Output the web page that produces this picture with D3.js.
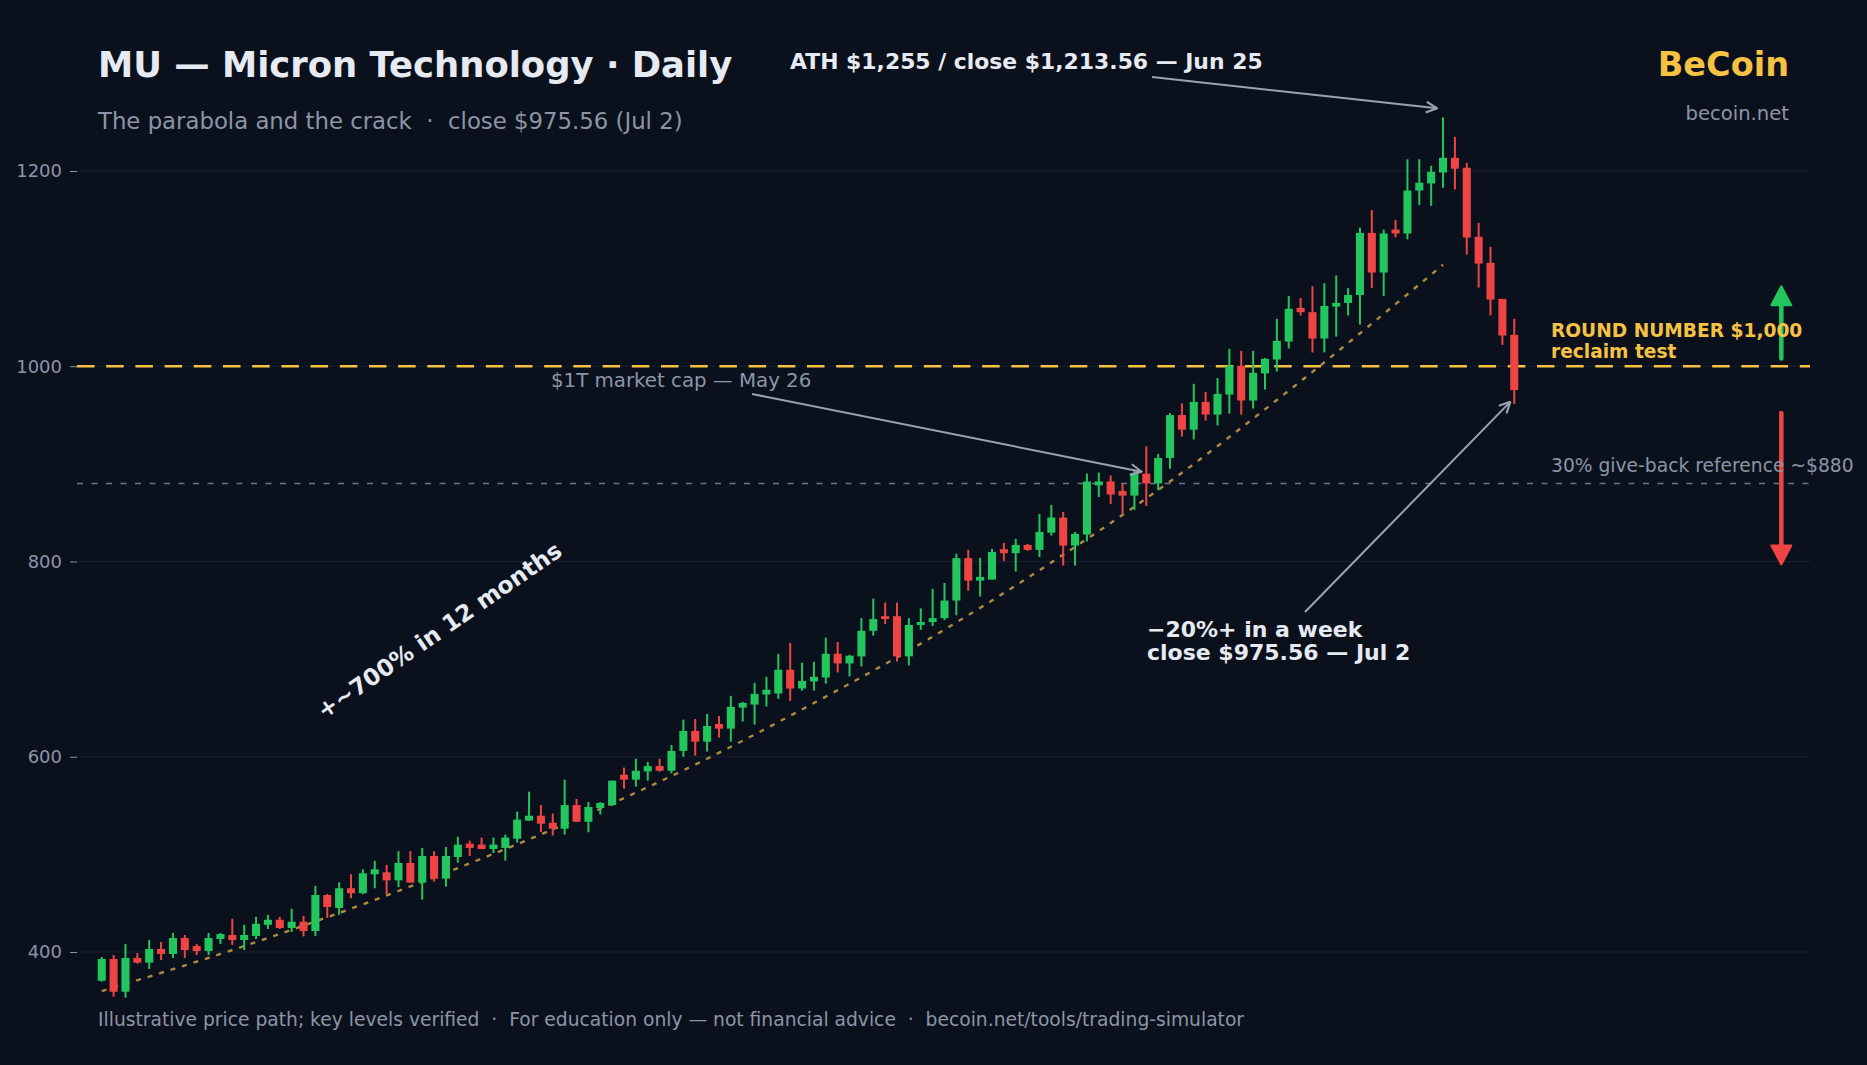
<!DOCTYPE html>
<html>
<head>
<meta charset="utf-8">
<script src="https://cdn.jsdelivr.net/npm/d3@7/dist/d3.min.js"></script>
<style>
  html, body { margin: 0; padding: 0; background: #0b111c; }
  svg { display: block; font-family: "DejaVu Sans", sans-serif; }
</style>
</head>
<body>
<div id="chart"></div>
<script>
// daily candles, index 0 .. 119 (Jun 25 = 113, Jul 2 = 119)
var opens = [370.6, 392.8, 359.3, 393.9, 389.1, 403.1, 398.0, 414.3, 406.1, 401.0,
  413.3, 417.4, 412.3, 416.4, 427.9, 433.0, 424.6, 431.0, 421.5, 458.4,
  445.1, 465.3, 460.2, 479.6, 481.6, 473.4, 491.2, 471.1, 498.4, 475.1,
  497.3, 511.0, 510.0, 505.5, 506.6, 516.1, 534.6, 539.6, 532.4, 526.3,
  550.5, 533.4, 547.5, 550.5, 581.6, 576.5, 585.0, 590.4, 585.7, 606.0,
  626.4, 615.4, 633.6, 628.8, 650.4, 653.5, 663.8, 664.8, 689.1, 669.9,
  677.1, 681.2, 705.5, 695.6, 702.8, 729.0, 744.0, 744.0, 702.8, 735.0,
  738.0, 742.0, 760.0, 803.4, 780.4, 781.5, 812.6, 808.5, 817.0, 811.9,
  829.6, 845.0, 816.3, 827.6, 878.0, 882.0, 872.3, 867.5, 890.0, 880.0,
  906.0, 950.0, 935.0, 963.5, 950.5, 971.0, 1000.4, 964.9, 992.6, 1006.9,
  1025.3, 1059.8, 1055.4, 1028.4, 1061.1, 1064.9, 1073.0, 1136.6, 1096.0, 1140.0,
  1136.0, 1180.0, 1187.2, 1198.5, 1213.5, 1203.3, 1132.6, 1105.9, 1069.0, 1032.2];
var highs = [394.9, 396.9, 408.2, 399.0, 412.3, 410.2, 419.5, 417.4, 408.2, 419.5,
  419.5, 434.0, 427.9, 436.0, 438.1, 436.0, 444.3, 437.0, 467.6, 459.4,
  471.4, 479.6, 484.7, 493.3, 489.2, 503.3, 503.3, 506.6, 503.3, 507.6,
  518.2, 514.1, 517.2, 517.2, 520.3, 543.8, 564.2, 550.5, 541.8, 576.5,
  556.7, 553.6, 553.6, 575.5, 588.9, 598.0, 594.7, 598.0, 612.0, 638.0,
  638.7, 643.8, 641.8, 662.4, 656.2, 675.7, 681.9, 705.5, 716.6, 696.3,
  697.3, 722.0, 717.6, 704.5, 742.0, 762.0, 758.0, 758.0, 742.0, 752.0,
  772.0, 778.0, 808.0, 812.0, 803.7, 812.9, 819.1, 823.2, 818.0, 848.7,
  857.9, 850.8, 830.3, 890.0, 891.0, 888.0, 880.0, 893.0, 918.0, 910.0,
  952.0, 962.0, 982.0, 973.7, 988.0, 1017.8, 1015.8, 1015.8, 1008.6, 1048.6,
  1072.0, 1070.0, 1082.0, 1085.0, 1093.0, 1080.0, 1142.0, 1160.0, 1140.0, 1150.0,
  1212.0, 1212.0, 1205.3, 1255.0, 1235.0, 1208.4, 1146.9, 1122.3, 1069.0, 1048.6];
var lows = [369.6, 354.2, 353.2, 388.0, 382.6, 391.8, 393.9, 393.9, 396.9, 396.9,
  408.2, 407.2, 402.0, 413.3, 423.6, 423.6, 420.5, 416.0, 416.4, 434.9,
  438.1, 455.0, 459.1, 465.3, 459.1, 466.5, 471.0, 453.6, 472.1, 467.1,
  491.5, 498.4, 505.5, 501.3, 493.6, 512.0, 534.6, 522.7, 519.2, 520.3,
  533.4, 522.7, 540.8, 549.5, 567.3, 569.4, 575.5, 584.7, 583.0, 600.0,
  601.2, 605.3, 619.6, 615.4, 636.0, 632.9, 651.5, 659.3, 657.2, 667.8,
  667.8, 675.0, 686.4, 682.2, 692.5, 724.0, 736.0, 697.6, 693.6, 730.0,
  734.0, 740.0, 745.0, 770.0, 764.1, 781.5, 800.6, 789.7, 810.9, 804.7,
  826.6, 795.8, 795.8, 820.5, 866.0, 859.0, 849.0, 852.8, 856.9, 873.0,
  895.0, 928.0, 925.0, 944.4, 939.3, 951.5, 950.5, 956.6, 976.1, 994.6,
  1018.2, 1052.0, 1014.1, 1014.1, 1030.4, 1052.0, 1042.7, 1080.0, 1072.0, 1132.0,
  1130.0, 1165.0, 1164.3, 1182.8, 1181.0, 1114.4, 1080.6, 1052.0, 1021.9, 961.5];
var closes = [392.8, 359.3, 393.9, 389.1, 403.1, 398.0, 414.3, 402.0, 401.0, 414.3,
  418.4, 412.3, 417.4, 428.9, 433.0, 424.6, 431.0, 421.5, 458.4, 446.1,
  465.3, 460.2, 480.6, 484.7, 473.4, 491.2, 471.1, 498.4, 475.1, 498.4,
  510.0, 506.6, 505.5, 510.0, 517.2, 535.6, 539.6, 531.4, 526.3, 550.5,
  533.4, 548.5, 552.6, 575.5, 576.5, 585.7, 590.4, 585.7, 606.0, 626.4,
  615.4, 631.5, 628.8, 651.1, 655.2, 664.4, 668.6, 689.1, 669.9, 677.7,
  681.9, 705.5, 695.6, 703.5, 729.0, 741.0, 741.0, 702.8, 735.0, 738.0,
  742.0, 760.0, 803.4, 780.4, 784.2, 809.8, 808.5, 817.0, 811.9, 830.3,
  845.0, 816.3, 828.3, 882.0, 882.0, 868.6, 867.5, 890.0, 880.0, 906.0,
  950.0, 935.0, 963.5, 950.5, 971.7, 1000.4, 964.9, 993.3, 1007.6, 1026.0,
  1058.8, 1055.4, 1028.4, 1061.8, 1064.9, 1073.0, 1136.6, 1096.0, 1136.0, 1136.0,
  1180.0, 1188.0, 1199.2, 1213.56, 1202.3, 1131.9, 1105.2, 1068.3, 1031.5, 975.56];

// dotted parabola guide
var trendIdx = [0, 10, 20, 30, 40, 50, 60, 70, 80, 90, 100, 113];
var trendVal = [360, 398, 440, 486, 536, 592, 655, 723, 799, 882, 975, 1104];

var yTicks = [400, 600, 800, 1000, 1200];
var roundLevel = 1000;
var giveBackLevel = 880;

var width = 1867, height = 1065;
var bg = "#0b111c", grid = "#172131", textCol = "#e6eaf2", muted = "#8b95a7",
    gold = "#f5c243", green = "#22c55e", red = "#ef4444", arrowCol = "#9aa3b4";

var svg = d3.select("#chart").append("svg")
  .attr("width", width)
  .attr("height", height)
  .style("background", bg);

var x = d3.scaleLinear().domain([-2, 144]).range([78, 1811]);
var y = d3.scaleLinear().domain([400, 1200]).range([952, 171]);
var step = x(1) - x(0);
var bodyW = step * 0.68;

var candles = d3.range(opens.length).map(function(i) {
  return {i: i, o: opens[i], h: highs[i], l: lows[i], c: closes[i]};
});

// grid + y axis
var yAxis = d3.axisLeft(y).tickValues(yTicks).tickFormat(d3.format("d"))
  .tickSize(7).tickPadding(8);
var gAxis = svg.append("g").attr("transform", "translate(77,0)").call(yAxis);
gAxis.select(".domain").remove();
gAxis.selectAll(".tick line").attr("stroke", muted);
gAxis.selectAll(".tick text")
  .attr("fill", muted)
  .style("font-family", "DejaVu Sans")
  .style("font-size", "18px");

svg.append("g").selectAll("line")
  .data(yTicks)
  .enter().append("line")
  .attr("x1", 77).attr("x2", 1810)
  .attr("y1", function(d) { return y(d); })
  .attr("y2", function(d) { return y(d); })
  .attr("stroke", grid)
  .attr("stroke-width", 1.2);

// reference levels
svg.append("line")
  .attr("x1", 77).attr("x2", 1810)
  .attr("y1", y(giveBackLevel)).attr("y2", y(giveBackLevel))
  .attr("stroke", "#6b7587")
  .attr("stroke-width", 1.5)
  .attr("stroke-dasharray", "6,8.5");

svg.append("line")
  .attr("x1", 77).attr("x2", 1810)
  .attr("y1", y(roundLevel)).attr("y2", y(roundLevel))
  .attr("stroke", gold)
  .attr("stroke-width", 2.6)
  .attr("stroke-dasharray", "17.5,11.7");

// trend guide
var trendLine = d3.line()
  .x(function(d) { return x(d[0]); })
  .y(function(d) { return y(d[1]); })
  .curve(d3.curveMonotoneX);

svg.append("path")
  .datum(d3.zip(trendIdx, trendVal))
  .attr("d", trendLine)
  .attr("fill", "none")
  .attr("stroke", "#c9a146")
  .attr("stroke-opacity", 0.85)
  .attr("stroke-width", 2.4)
  .attr("stroke-dasharray", "5,7");

// candles
var gCandle = svg.append("g").selectAll("g")
  .data(candles)
  .enter().append("g");

gCandle.append("line")
  .attr("x1", function(d) { return x(d.i); })
  .attr("x2", function(d) { return x(d.i); })
  .attr("y1", function(d) { return y(d.h); })
  .attr("y2", function(d) { return y(d.l); })
  .attr("stroke", function(d) { return d.c >= d.o ? green : red; })
  .attr("stroke-width", 2);

gCandle.append("rect")
  .attr("x", function(d) { return x(d.i) - bodyW / 2; })
  .attr("width", bodyW)
  .attr("y", function(d) { return y(Math.max(d.o, d.c)); })
  .attr("height", function(d) { return Math.max(2, Math.abs(y(d.o) - y(d.c))); })
  .attr("fill", function(d) { return d.c >= d.o ? green : red; });

// arrow markers
var defs = svg.append("defs");
defs.append("marker")
  .attr("id", "openhead")
  .attr("viewBox", "0 0 12 12")
  .attr("refX", 11).attr("refY", 6)
  .attr("markerWidth", 13).attr("markerHeight", 13)
  .attr("markerUnits", "userSpaceOnUse")
  .attr("orient", "auto")
  .append("path")
  .attr("d", "M1,1 L11,6 L1,11")
  .attr("fill", "none")
  .attr("stroke", arrowCol)
  .attr("stroke-width", 2);

function annotate(x1, y1, x2, y2) {
  svg.append("line")
    .attr("x1", x1).attr("y1", y1)
    .attr("x2", x2).attr("y2", y2)
    .attr("stroke", arrowCol)
    .attr("stroke-width", 2)
    .attr("marker-end", "url(#openhead)");
}

var ath = candles[113], last = candles[119];
annotate(1152, 77, x(ath.i) - 6, y(ath.h) - 9);
annotate(752, 394, x(87) + 7, y(892));
annotate(1305, 612, x(last.i) - 4, y(last.l) - 2);

// up / down arrows on the right
function bigArrow(v0, v1, col) {
  var ax = x(141.5);
  var dir = v1 > v0 ? -1 : 1;
  var tipY = y(v1);
  svg.append("line")
    .attr("x1", ax).attr("x2", ax)
    .attr("y1", y(v0)).attr("y2", tipY - dir * 12)
    .attr("stroke", col)
    .attr("stroke-width", 4.5)
    .attr("stroke-linecap", "round");
  svg.append("path")
    .attr("d", "M" + ax + "," + tipY + " L" + (ax - 10) + "," + (tipY - dir * 19) +
      " L" + (ax + 10) + "," + (tipY - dir * 19) + " Z")
    .attr("fill", col)
    .attr("stroke", col)
    .attr("stroke-width", 2)
    .attr("stroke-linejoin", "round");
}
bigArrow(1008, 1082, green);
bigArrow(952, 797, red);

// texts
function label(tx, ty, str, size, col, weight, anchor) {
  return svg.append("text")
    .attr("x", tx).attr("y", ty)
    .attr("fill", col)
    .attr("text-anchor", anchor || "start")
    .style("font-size", size + "px")
    .style("font-weight", weight || "normal")
    .style("white-space", "pre")
    .text(str);
}

label(98, 77, "MU \u2014 Micron Technology \u00b7 Daily", 35.4, textCol, "bold");
label(98, 129, "The parabola and the crack  \u00b7  close $975.56 (Jul 2)", 22.8, muted);
label(1789, 76, "BeCoin", 33.5, gold, "bold", "end");
label(1789, 120, "becoin.net", 19.6, muted, "normal", "end");

label(790, 69, "ATH $1,255 / close $1,213.56 \u2014 Jun 25", 21.9, textCol, "bold");
label(551, 387, "$1T market cap \u2014 May 26", 19.8, muted);
label(1147, 637, "\u221220%+ in a week", 22, textCol, "bold");
label(1147, 660, "close $975.56 \u2014 Jul 2", 22, textCol, "bold");

label(1551, 337, "ROUND NUMBER $1,000", 18.6, gold, "bold");
label(1551, 357.5, "reclaim test", 18.6, gold, "bold");
label(1551, 472, "30% give-back reference ~$880", 18.7, muted);

label(0, 0, "+~700% in 12 months", 23.3, textCol, "bold", "middle")
  .attr("transform", "translate(444,637) rotate(-34.6)");

label(98, 1026, "Illustrative price path; key levels verified  \u00b7  For education only \u2014 not financial advice  \u00b7  becoin.net/tools/trading-simulator", 18.7, muted);
</script>
</body>
</html>
